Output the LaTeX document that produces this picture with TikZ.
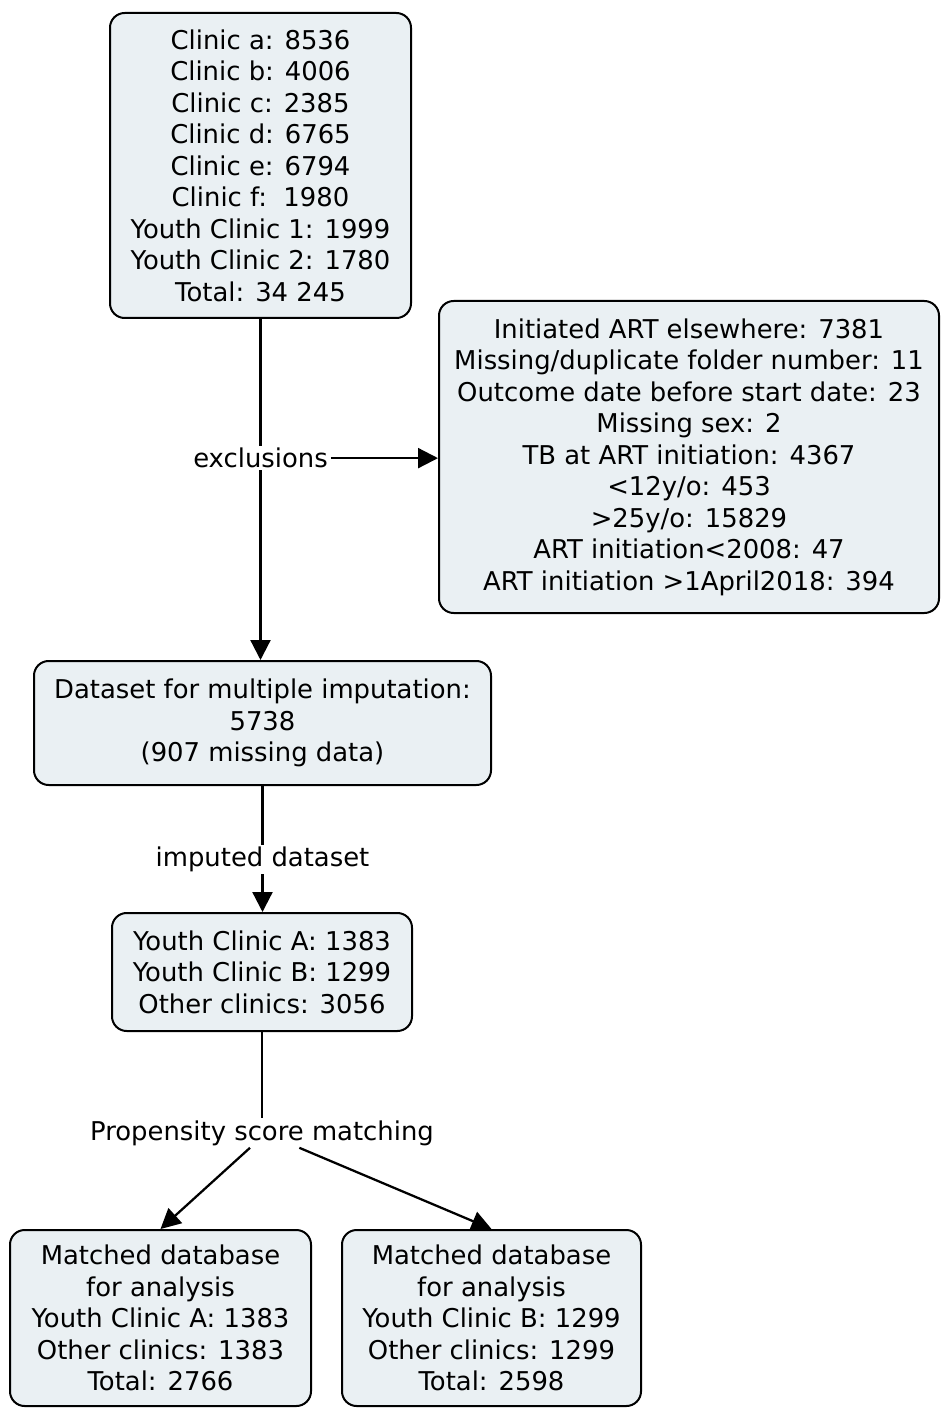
\documentclass[tikz,border=0pt]{standalone}
\usepackage{fontspec}
\setmainfont{DejaVu Sans}
\usetikzlibrary{arrows.meta}
\definecolor{boxfill}{RGB}{234,240,243}
\tikzset{
  boxnode/.style={draw=black, line width=1.5pt, fill=boxfill, rounded corners=11pt, align=center, inner sep=0pt, font=\fontsize{19.4}{23.6}\selectfont},
  lbl/.style={fill=white, inner sep=1.5pt, font=\fontsize{19.4}{23.6}\selectfont},
  arr/.style={line width=1.7pt, -{Triangle[length=15pt,width=15pt]}},
  ln/.style={line width=1.7pt}
}
\begin{document}
\begin{tikzpicture}[x=0.75pt,y=-0.75pt]
\useasboundingbox (0,0) rectangle (940,1408);
\node[boxnode, minimum width=225.75pt, minimum height=228.75pt] (top) at (260.5,165.5)
  {Clinic a: 8536\\Clinic b: 4006\\Clinic c: 2385\\Clinic d: 6765\\Clinic e: 6794\\Clinic f:~~1980\\Youth Clinic 1: 1999\\Youth Clinic 2: 1780\\Total: 34 245};
\node[boxnode, minimum width=375pt, minimum height=234pt] (excl) at (689,457)
  {Initiated ART elsewhere: 7381\\Missing/duplicate folder number: 11\\Outcome date before start date: 23\\Missing sex: 2\\TB at ART initiation: 4367\\<12y/o: 453\\>25y/o: 15829\\ART initiation<2008: 47\\ART initiation >1April2018: 394};
\node[boxnode, minimum width=342.75pt, minimum height=93pt] (data) at (262.5,723)
  {Dataset for multiple imputation:\\5738\\(907 missing data)};
\node[boxnode, minimum width=225pt, minimum height=88.5pt] (youth) at (262,972)
  {Youth Clinic A: 1383\\Youth Clinic B: 1299\\Other clinics: 3056};
\node[boxnode, minimum width=225.75pt, minimum height=132pt] (ma) at (160.5,1318)
  {Matched database\\for analysis\\Youth Clinic A: 1383\\Other clinics: 1383\\Total: 2766};
\node[boxnode, minimum width=224.25pt, minimum height=132pt] (mb) at (491.5,1318)
  {Matched database\\for analysis\\Youth Clinic B: 1299\\Other clinics: 1299\\Total: 2598};

\draw[arr] (top.south) -- (top.south |- data.north)
  node[lbl, pos=0.408] (exl) {exclusions};
\draw[arr] (exl.east) -- (exl.east -| excl.west);
\draw[arr] (data.south) -- (data.south |- youth.north)
  node[lbl, pos=0.586] (imp) {imputed dataset};
\node[lbl] (psm) at (262,1133) {Propensity score matching};
\draw[ln] (youth.south) -- (youth.south |- psm.north);
\coordinate (psmL) at ([xshift=-9pt]psm.south);
\coordinate (psmR) at ([xshift=28pt]psm.south);
\draw[arr] (psmL) -- (ma.north);
\draw[arr] (psmR) -- (mb.north);
\end{tikzpicture}
\end{document}
